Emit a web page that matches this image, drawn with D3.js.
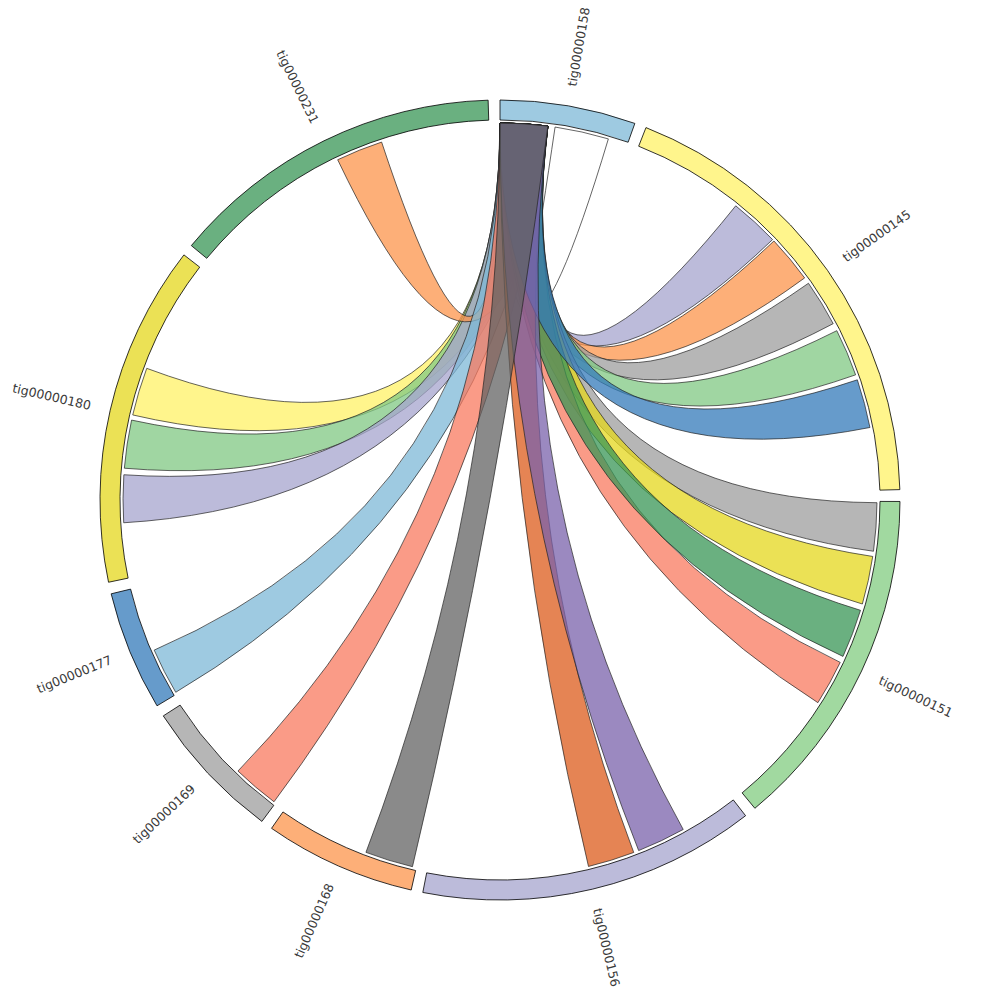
<!DOCTYPE html>
<html>
<head>
<meta charset="utf-8">
<script src="https://cdn.jsdelivr.net/npm/d3@7"></script>
<style>
  body { margin: 0; background: #fff; }
  .label { font-family: "DejaVu Sans", sans-serif; font-size: 12.5px; fill: #3a3a3a; }
</style>
</head>
<body>
<div id="chart"></div>
<script>
// contigs, clockwise from 12 o'clock (relative lengths)
const contigNames = ["tig00000158", "tig00000145", "tig00000151", "tig00000156", "tig00000168",
                     "tig00000169", "tig00000177", "tig00000180", "tig00000231"];
const contigLengths = [19.7, 67.1, 50.2, 49.0, 22.0, 20.8, 17.4, 49.65, 48.8];
const contigColors = ["#9ecae1", "#fff58c", "#a1d9a0", "#bcbbda", "#fdaf78",
                      "#b6b6b6", "#669bcb", "#ebe155", "#6ab080"];

// links, in drawing order (positions are offsets inside each contig)
const linkSource      = ["tig00000158", "tig00000158", "tig00000158", "tig00000158", "tig00000158",
                         "tig00000158", "tig00000158", "tig00000158", "tig00000158", "tig00000158",
                         "tig00000158", "tig00000158", "tig00000158", "tig00000158", "tig00000158",
                         "tig00000158", "tig00000158", "tig00000158", "tig00000158"];
const linkSourceStart = [8.4, 0, 0, 0, 0, 0, 0, 0, 0, 0, 0, 0, 0, 0, 0, 0, 0, 0, 0];
const linkSourceEnd   = [16.7, 7.3, 7.3, 7.3, 7.3, 7.3, 7.3, 7.3, 7.3, 7.3, 7.3, 7.3, 7.3, 7.3, 7.3, 7.3, 7.3, 7.3, 7.3];
const linkTarget      = ["tig00000158", "tig00000145", "tig00000145", "tig00000145", "tig00000145",
                         "tig00000180", "tig00000180", "tig00000180", "tig00000231", "tig00000177",
                         "tig00000169", "tig00000151", "tig00000151", "tig00000151", "tig00000151",
                         "tig00000156", "tig00000145", "tig00000156", "tig00000168"];
const linkTargetStart = [1.0, 17.3, 25.2, 33.5, 41.9, 24.9, 16.7, 8.4, 25.0, 0.3,
                         0.3, 0.2, 8.4, 25.3, 16.8, 17.1, 50.0, 8.8, 0.6];
const linkTargetEnd   = [6.0, 24.9, 32.5, 40.7, 49.2, 32.3, 24.1, 15.7, 32.2, 7.5,
                         7.5, 7.6, 15.8, 32.3, 24.3, 24.3, 57.5, 16.3, 8.0];
const linkColors      = ["#ffffff", "#a6a4ce", "#fc944b", "#9e9e9e", "#80c883",
                         "#fff266", "#80c883", "#a6a4ce", "#fc944b", "#7eb8d7",
                         "#f87a5f", "#9e9e9e", "#e4d71c", "#f87a5f", "#389656",
                         "#dc5b1b", "#337aba", "#7a62ab", "#636363"];

const width = 1000, height = 1000;
const outerR = 400, innerR = 380, ribbonR = 377, labelR = 420;
const gapDeg = 1.7;

const rad = Math.PI / 180;
const unit = (360 - gapDeg * contigNames.length) / d3.sum(contigLengths) * rad;

// start angle of every contig
const contigStart = {};
let acc = 0;
contigNames.forEach((name, i) => {
    contigStart[name] = acc;
    acc += contigLengths[i] * unit + gapDeg * rad;
});
const pos = (name, offset) => contigStart[name] + offset * unit;

const svg = d3.select('#chart')
    .append('svg')
    .attr('width', width)
    .attr('height', height);

const g = svg.append('g')
    .attr('transform', `translate(${width / 2}, ${height / 2})`);

// ribbons
const ribbon = d3.ribbon().radius(ribbonR);

const links = linkSource.map((s, i) => ({
    source: { startAngle: pos(s, linkSourceStart[i]), endAngle: pos(s, linkSourceEnd[i]) },
    target: { startAngle: pos(linkTarget[i], linkTargetStart[i]), endAngle: pos(linkTarget[i], linkTargetEnd[i]) },
    color: linkColors[i]
}));

g.append('g')
    .selectAll('path')
    .data(links)
    .enter()
    .append('path')
    .attr('d', ribbon)
    .attr('fill', d => d.color)
    .attr('fill-opacity', 0.75)
    .attr('stroke', '#222')
    .attr('stroke-width', 0.7);

// contig arcs
const arc = d3.arc().innerRadius(innerR).outerRadius(outerR);

const contigs = contigNames.map((name, i) => ({
    name: name,
    startAngle: contigStart[name],
    endAngle: contigStart[name] + contigLengths[i] * unit,
    color: contigColors[i]
}));

g.append('g')
    .selectAll('path')
    .data(contigs)
    .enter()
    .append('path')
    .attr('d', arc)
    .attr('fill', d => d.color)
    .attr('stroke', '#000')
    .attr('stroke-width', 0.8);

// labels
g.append('g')
    .selectAll('text')
    .data(contigs)
    .enter()
    .append('text')
    .attr('class', 'label')
    .attr('dy', '0.35em')
    .attr('transform', d => {
        const a = (d.startAngle + d.endAngle) / 2 / rad;
        return `rotate(${a - 90}) translate(${labelR}, 0)` + (a > 180 ? ' rotate(180)' : '');
    })
    .attr('text-anchor', d => ((d.startAngle + d.endAngle) / 2 / rad > 180 ? 'end' : 'start'))
    .text(d => d.name);
</script>
</body>
</html>
